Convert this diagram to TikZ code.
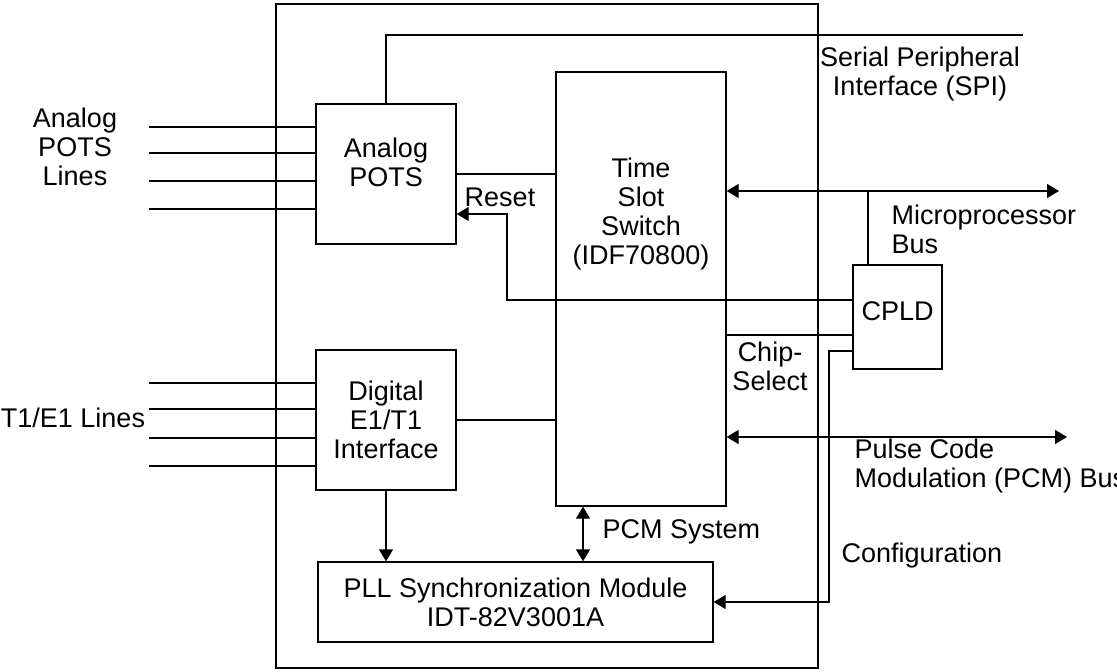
\documentclass[tikz,border=0pt]{standalone}
\usepackage{fontspec}
\setmainfont{Liberation Sans}
\usetikzlibrary{positioning, arrows.meta}

\begin{document}
\begin{tikzpicture}[x=0.5pt, y=-0.5pt, line width=0.65pt,
    blk/.style={draw, inner sep=0pt, font=\fontsize{13.5}{14.5}\selectfont, align=center},
    txt/.style={font=\fontsize{13.5}{14.5}\selectfont, align=center, inner sep=0pt},
    arr/.style={-{Triangle[length=6pt, width=7pt]}},
    biarr/.style={{Triangle[length=6pt, width=7pt]}-{Triangle[length=6pt, width=7pt]}}]
  \useasboundingbox (0,0) rectangle (1117,671);
  % blocks
  \node[blk, minimum width=271pt, minimum height=332pt] (board) at (547,336) {};
  \node[blk, minimum width=70pt, minimum height=70pt] (pots) at (386,174) {};
  \node[txt] (potslbl) at (386,162) {Analog\\POTS};
  \node[blk, minimum width=85pt, minimum height=217pt] (tss) at (641,289) {};
  \node[txt] (tsslbl) at (641,214) {Time\\Slot\\Switch\\(IDF70800)};
  \node[blk, minimum width=70pt, minimum height=70pt] (dig) at (386,420) {Digital\\E1/T1\\Interface};
  \node[blk, minimum width=197.5pt, minimum height=40pt] (pll) at (515.5,602) {PLL Synchronization Module\\IDT-82V3001A};
  \node[blk, minimum width=44.5pt, minimum height=52pt] (cpld) at (897.5,317) {};
  \node[txt] (cpldlbl) at (897.5,311) {CPLD};
  % line inputs
  \foreach \y [count=\i] in {127,153,181,209} {
    \coordinate (al\i) at (149,\y);
    \draw (al\i) -- (al\i -| pots.west);
  }
  \foreach \y [count=\i] in {383,409,438,466} {
    \coordinate (tl\i) at (149,\y);
    \draw (tl\i) -- (tl\i -| dig.west);
  }
  \node[txt] (alines) at (75,147) {Analog\\POTS\\Lines};
  \node[txt] (tlines) at (73,418) {T1/E1 Lines};
  % connectors
  \coordinate (spi) at (1023,35);
  \draw (pots.north) |- (spi);
  \draw (pots.east) -- (pots.east -| tss.west);
  \draw (dig.east) -- (dig.east -| tss.west);
  \coordinate (rst) at (507,300);
  \draw[arr] (rst -| cpld.west) -- (rst) |- ([yshift=-20pt]pots.east);
  \coordinate (cs) at (726,335);
  \draw (cs -| tss.east) -- (cs -| cpld.west);
  \coordinate (cfg) at (829,351);
  \draw[arr] (cfg -| cpld.west) -- (cfg) |- (pll.east);
  \coordinate (mpbus) at (1059,191);
  \draw[biarr] (mpbus -| tss.east) -- (mpbus);
  \coordinate (mptap) at (868,191);
  \draw (mptap) -- (mptap |- cpld.north);
  \coordinate (pcmbus) at (1067,437);
  \draw[biarr] (pcmbus -| tss.east) -- (pcmbus);
  \coordinate (pcmsys) at (583,534);
  \draw[biarr] (pcmsys |- tss.south) -- (pcmsys |- pll.north);
  \draw[arr] (dig.south) -- (dig.south |- pll.north);
  % labels
  \node[txt] (spilbl) at (920,74) {Serial Peripheral\\Interface (SPI)};
  \node[txt, align=left, anchor=west] (mplbl) at (891,229) {Microprocessor\\Bus};
  \node[txt] (rstlbl) at (500,197) {Reset};
  \node[txt] (cslbl) at (770,366) {Chip-\\Select};
  \node[txt, align=left, anchor=west] (pcmlbl) at (854,466) {Pulse Code\\Modulation (PCM) Bus};
  \node[txt, anchor=west] (syslbl) at (602,532) {PCM System};
  \node[txt, anchor=west] (cfglbl) at (841,556) {Configuration};
\end{tikzpicture}
\end{document}
